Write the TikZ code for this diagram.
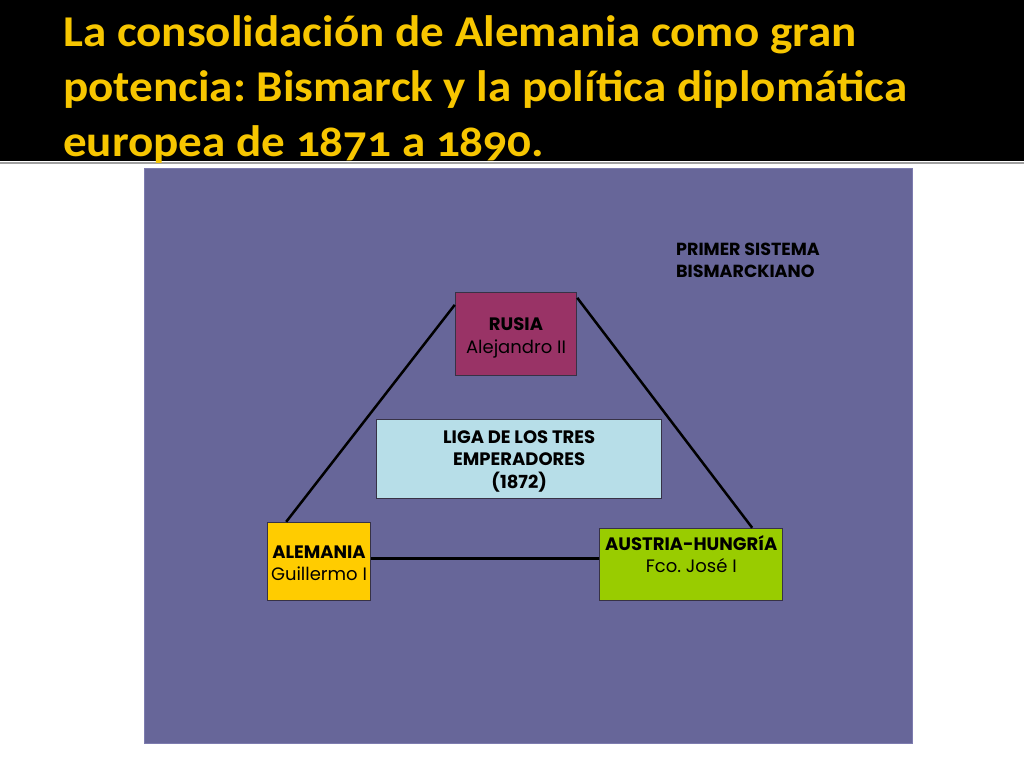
\documentclass[tikz,border=0pt]{standalone}
\usepackage{fontspec}
\newfontfamily\titlefont{Carlito}[FakeStretch=1.07, Numbers=OldStyle]
\newfontfamily\boxfont{Poppins}
\usetikzlibrary{calc}
\frenchspacing
\definecolor{bgpurple}{RGB}{103,102,153}
\definecolor{purpleedge}{RGB}{125,124,175}
\definecolor{titleyellow}{RGB}{247,198,0}
\definecolor{rusiac}{RGB}{153,51,102}
\definecolor{ligac}{RGB}{183,222,232}
\definecolor{alemc}{RGB}{255,204,0}
\definecolor{austc}{RGB}{153,204,0}
\definecolor{boxline}{RGB}{55,50,70}
\definecolor{rulegray}{RGB}{160,160,160}
\begin{document}
\begin{tikzpicture}[x=1pt,y=-1pt,
  title/.style={anchor=base west, inner sep=0pt, text=titleyellow, font=\titlefont\bfseries\fontsize{44}{55}\selectfont},
  box/.style={draw=boxline, line width=1pt, inner sep=0pt, align=center, text=black, font=\boxfont\fontsize{18}{23}\selectfont},
  boxtext/.style={inner sep=0pt, align=center, text=black, font=\boxfont\fontsize{18}{22.5}\selectfont},
  link/.style={line width=2.5pt, draw=black}]
\useasboundingbox (0,0) rectangle (1024,768);
\fill[white] (0,0) rectangle (1024,768);
\fill[black] (0,0) rectangle (1024,161);
\fill[rulegray] (0,162) rectangle (1024,164);
\filldraw[fill=bgpurple, draw=purpleedge, line width=0.8pt] (144,168) rectangle (912,743);
\node[title] (t1) at (63,46.7) {La consolidación de Alemania como gran};
\node[title] (t2) at (63,101.7) {potencia: Bismarck y la política diplomática};
\node[title] (t3) at (63,156.7) {europea de 1871 a 1890.};
\node[anchor=north west, inner sep=0pt, align=left, text=black, font=\boxfont\bfseries\fontsize{17.5}{22}\selectfont] (primer) at (676,242.5) {PRIMER SISTEMA\\BISMARCKIANO};
\node[box, fill=rusiac, minimum width=121.5pt, minimum height=82.7pt] (rusia) at (516,333.7) {};
\node[boxtext] (rusiatxt) at ($(rusia.center)+(0,4)$) {\textbf{RUSIA}\\Alejandro II};
\node[box, fill=ligac, minimum width=285pt, minimum height=78.7pt] (liga) at (519.2,458.7) {};
\node[boxtext, font=\boxfont\bfseries\fontsize{18}{22.5}\selectfont] (ligatxt) at ($(liga.center)+(0,2.5)$) {LIGA DE LOS TRES\\EMPERADORES\\(1872)};
\node[box, fill=alemc, minimum width=103.4pt, minimum height=78.4pt] (alem) at (319,561.5) {};
\node[boxtext] (alemtxt) at ($(alem.center)+(0,2)$) {\textbf{ALEMANIA}\\Guillermo I};
\node[box, fill=austc, minimum width=182.7pt, minimum height=72.7pt] (aust) at (691.3,564.6) {};
\node[boxtext] (austtxt) at ($(aust.center)+(0,-10.5)$) {\textbf{AUSTRIA-HUNGRíA}\\Fco. José I};
\draw[link] ($(rusia.north west)+(0,13)$) -- ($(alem.north west)+(19.4,0)$);
\draw[link] ($(rusia.north east)+(0,6)$) -- ($(aust.north east)+(-31,0)$);
\draw[link] ($(alem.east)+(0,-3.2)$) -- ($(aust.west)+(0,-6.3)$);
\end{tikzpicture}
\end{document}
